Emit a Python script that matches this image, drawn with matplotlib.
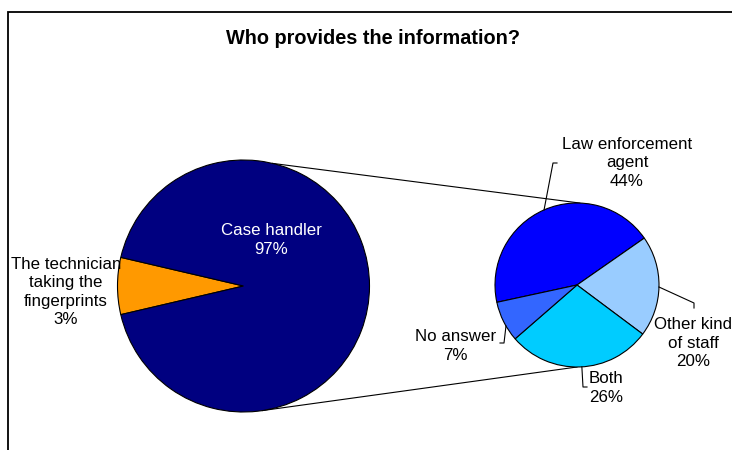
import math

import matplotlib
matplotlib.use('Agg')
import matplotlib.pyplot as plt
from matplotlib.patches import Rectangle

W, H = 732, 450

# first pie: slice shares as drawn, labels as printed
main_labels = ['The technician\ntaking the\nfingerprints\n3%', 'Case handler\n97%']
main_share = [7.3, 92.7]
main_colors = ['#FF9900', '#000080']

# second pie breaks down "Case handler"
sub_labels = ['Law enforcement\nagent\n44%', 'Other kind\nof staff\n20%', 'Both\n26%', 'No answer\n7%']
sub_share = [43.7, 19.9, 28.4, 8.0]
sub_colors = ['#0000FF', '#99CCFF', '#00CCFF', '#3366FF']

title = 'Who provides the information?'

# layout, in pixels from the top-left corner
MAIN_C, MAIN_R = (243.5, 286), 126
SUB_C, SUB_R = (577, 285), 82
main_label_pos = [(66, 292), (271, 240)]
main_label_color = ['black', 'white']
sub_label_pos = [(627, 163), (693, 343), (606, 388), (455.5, 346)]
# leader: angle on second pie, then elbow and end point
sub_leaders = [
    (113.7, [(553, 163), (557, 163)]),
    (-1.4, [(694, 303), (694, 308)]),
    (-86.6, [(583, 387), (587, 387)]),
    (210.0, [(504, 343), (500, 343)]),
]
# connector lines between the pies (angle on main, angle on second)
connectors = [(76.7, 88.0), (-81.4, -90.0)]


def fy(py):
    return H - py


def on_circle(c, r, ang):
    a = math.radians(ang)
    return c[0] + r * math.cos(a), fy(c[1]) + r * math.sin(a)


plt.rcParams['font.family'] = ['Liberation Sans', 'DejaVu Sans']

fig = plt.figure(figsize=(W / 100, H / 100), dpi=100)
ax = fig.add_axes([0, 0, 1, 1])

wp = dict(edgecolor='black', linewidth=0.8)
ax.pie(main_share, colors=main_colors, radius=MAIN_R,
       center=(MAIN_C[0], fy(MAIN_C[1])),
       startangle=180 - main_share[0] * 3.6 / 2, counterclock=True,
       wedgeprops=wp)
ax.pie(sub_share, colors=sub_colors, radius=SUB_R,
       center=(SUB_C[0], fy(SUB_C[1])),
       startangle=192.2, counterclock=False, wedgeprops=wp)

for a_main, a_sub in connectors:
    x0, y0 = on_circle(MAIN_C, MAIN_R, a_main)
    x1, y1 = on_circle(SUB_C, SUB_R, a_sub)
    ax.plot([x0, x1], [y0, y1], color='black', lw=0.8, zorder=0.5)

fs = 12.2
for txt, (px, py), col in zip(main_labels, main_label_pos, main_label_color):
    ax.text(px, fy(py), txt, ha='center', va='center', color=col,
            fontsize=fs, linespacing=1.3)

for txt, (px, py), (ang, pts) in zip(sub_labels, sub_label_pos, sub_leaders):
    ax.text(px, fy(py), txt, ha='center', va='center', color='black',
            fontsize=fs, linespacing=1.3)
    x0, y0 = on_circle(SUB_C, SUB_R, ang)
    xs = [x0] + [p[0] for p in pts]
    ys = [y0] + [fy(p[1]) for p in pts]
    ax.plot(xs, ys, color='black', lw=0.8)

ax.text(373, fy(39), title, ha='center', va='center', fontsize=14.3,
        fontweight='bold')

# chart area border (runs off the right and bottom)
ax.add_patch(Rectangle((7.5, -20), 800, fy(12) + 20, fill=False,
                       edgecolor='black', lw=1.3, clip_on=True))

ax.set_xlim(0, W)
ax.set_ylim(0, H)
ax.set_aspect('auto')
ax.axis('off')

fig.savefig('out.png', dpi=100)
